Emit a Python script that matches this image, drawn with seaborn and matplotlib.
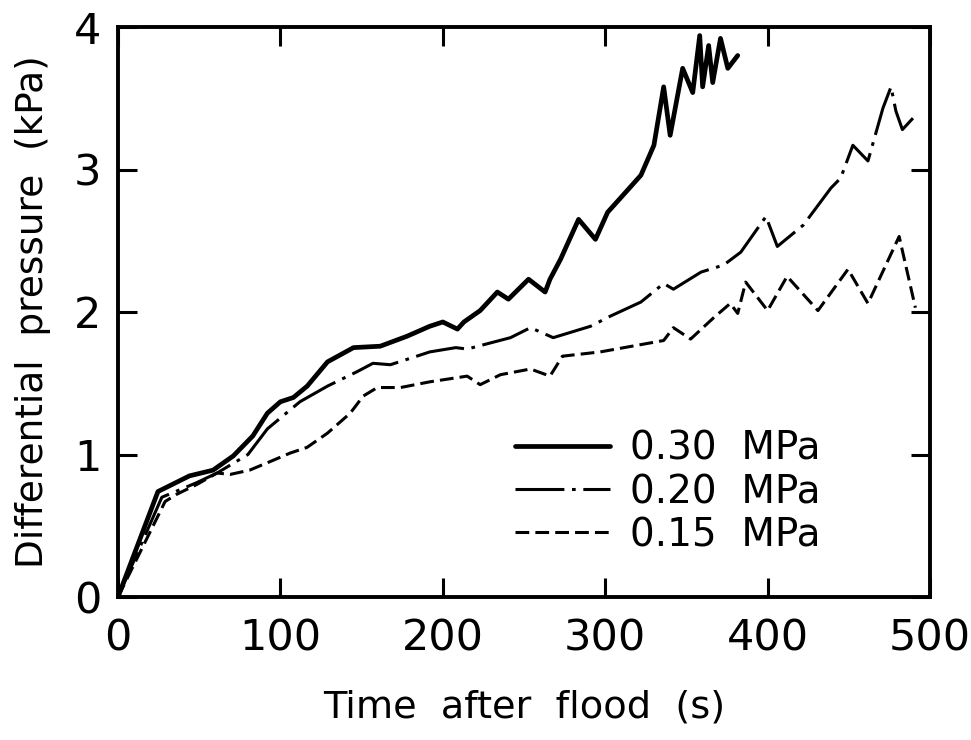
import matplotlib
matplotlib.use("Agg")
import matplotlib.pyplot as plt
import seaborn as sns
import pandas as pd

# ---- data ----
time_030 = [0, 24.6, 44, 58.5, 71, 83, 92, 100, 108, 116.5, 129, 145, 161.5, 178,
            192, 200, 209, 213, 223, 233.6, 240.4, 252.8, 263, 266, 272.5, 283.6,
            294, 301.5, 311, 322, 330, 336, 340, 347.7, 353.9, 358.2, 360, 363.7,
            366.2, 371, 375.5, 381.6]
p_030 = [0, 0.74, 0.85, 0.89, 0.99, 1.13, 1.29, 1.37, 1.40, 1.48, 1.65, 1.75, 1.76, 1.83,
         1.90, 1.93, 1.88, 1.93, 2.01, 2.14, 2.09, 2.23, 2.14, 2.23, 2.37, 2.65,
         2.51, 2.70, 2.82, 2.96, 3.17, 3.58, 3.24, 3.71, 3.54, 3.94, 3.58, 3.87,
         3.61, 3.92, 3.71, 3.80]

time_020 = [0, 27, 48, 61, 80, 92, 112, 129, 147, 157, 167.7, 184, 192, 208, 215,
            241.7, 254, 268, 291, 303, 322, 336, 342, 359, 373, 383.5, 399, 406,
            422, 439, 445, 452.5, 461.8, 471, 476, 479, 483, 489.5]
p_020 = [0, 0.70, 0.80, 0.87, 1.00, 1.18, 1.37, 1.48, 1.58, 1.64, 1.63, 1.69, 1.72, 1.75, 1.74,
         1.82, 1.89, 1.82, 1.90, 1.97, 2.07, 2.20, 2.16, 2.28, 2.33, 2.42, 2.67, 2.46,
         2.61, 2.87, 2.94, 3.17, 3.06, 3.43, 3.58, 3.41, 3.28, 3.36]

time_015 = [0, 29, 36, 48.6, 61, 69, 81, 93.6, 106, 116.4, 129, 143, 151, 159.7, 174,
            192, 215, 223, 235.5, 254, 266, 273.7, 297, 336, 342, 352.6, 366.8, 377,
            381.6, 386.5, 400, 412, 431, 449.5, 461.8, 481, 491]
p_015 = [0, 0.67, 0.72, 0.79, 0.87, 0.86, 0.89, 0.95, 1.01, 1.05, 1.15, 1.29, 1.41, 1.47, 1.47,
         1.51, 1.55, 1.49, 1.56, 1.60, 1.55, 1.69, 1.72, 1.80, 1.89, 1.81, 1.96, 2.06,
         1.99, 2.21, 2.01, 2.25, 2.01, 2.30, 2.06, 2.53, 2.03]

series_labels = ["0.30  MPa", "0.20  MPa", "0.15  MPa"]
x_ticks = [0, 100, 200, 300, 400, 500]
y_ticks = [0, 1, 2, 3, 4]

sns.set_style("ticks")
plt.rcParams["font.family"] = ["DejaVu Sans"]
for key in ["text.color", "axes.labelcolor", "xtick.color", "ytick.color", "axes.edgecolor"]:
    plt.rcParams[key] = "black"

fig = plt.figure(figsize=(9.71, 7.40), dpi=100)
ax = fig.add_axes([118 / 971, 1 - 597 / 740, (930 - 118) / 971, (597 - 27) / 740])

df030 = pd.DataFrame({"t": time_030, "p": p_030})
df020 = pd.DataFrame({"t": time_020, "p": p_020})
df015 = pd.DataFrame({"t": time_015, "p": p_015})

sns.lineplot(data=df030, x="t", y="p", ax=ax, color="black", lw=3.4,
             estimator=None, sort=False, label=series_labels[0])
sns.lineplot(data=df020, x="t", y="p", ax=ax, color="black", lw=2.2,
             estimator=None, sort=False, label=series_labels[1])
sns.lineplot(data=df015, x="t", y="p", ax=ax, color="black", lw=2.2,
             estimator=None, sort=False, label=series_labels[2])

lines = ax.get_lines()
lines[0].set_solid_joinstyle("round")
lines[1].set_dashes((16, 2.5, 1.2, 2.5))
lines[2].set_dashes((4.5, 2))
for ln in lines:
    ln.set_dash_capstyle("butt")

ax.set_xlim(0, 500)
ax.set_ylim(0, 4)
ax.set_xticks(x_ticks)
ax.set_yticks(y_ticks)
ax.set_xticklabels([str(v) for v in x_ticks])
ax.set_yticklabels([str(v) for v in y_ticks])

for s in ax.spines.values():
    s.set_visible(True)
    s.set_linewidth(2.8)
    s.set_color("black")

ax.tick_params(axis="both", direction="in", length=14, width=2.2, labelsize=31,
               top=True, right=True, colors="black")
ax.tick_params(axis="x", pad=15)
ax.tick_params(axis="y", pad=12)

ax.set_xlabel("Time  after  flood  (s)", fontsize=27.5)
ax.set_ylabel("Differential  pressure  (kPa)", fontsize=27)
ax.xaxis.set_label_coords(0.5, -0.163)
ax.yaxis.set_label_coords(-0.083, 0.5)

leg = ax.legend(loc="upper left", bbox_to_anchor=(0.489, 0.293), frameon=False,
                fontsize=28, handlelength=2.45, handletextpad=0.5, labelspacing=0.13,
                borderaxespad=0, borderpad=0)
for h in leg.get_lines():
    h.set_color("black")

fig.savefig("out.png", dpi=100, facecolor="white")
